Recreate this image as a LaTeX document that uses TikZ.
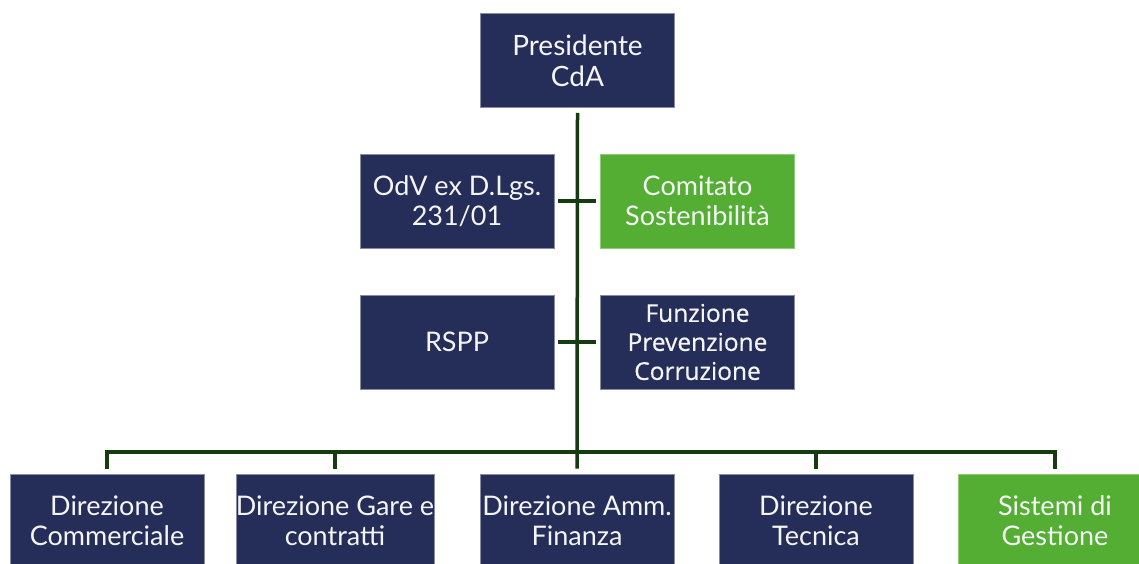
\documentclass[tikz,border=0pt]{standalone}
\usepackage{fontspec}
\setmainfont{Lato}
\newfontfamily\funzfont{Open Sans}[FakeBold=0.6]
\usepackage{tikz}
\definecolor{boxblue}{RGB}{37,45,89}
\definecolor{boxgreen}{RGB}{84,174,52}
\definecolor{linkgreen}{RGB}{20,60,16}
\newcommand{\boxwidth}{194pt}
\newcommand{\boxheight}{94pt}
\tikzset{
	orgbox/.style={fill=boxblue, draw=boxblue!55!white, line width=0.6pt,
		minimum width=\boxwidth, minimum height=\boxheight, inner sep=0pt,
		text=white!92!gray, align=center, font=\fontsize{27}{30}\selectfont},
	greenbox/.style={orgbox, fill=boxgreen, draw=boxgreen!65!white},
	link/.style={draw=linkgreen, line width=3.5pt},
}

\begin{document}
\begin{tikzpicture}[x=1pt,y=-1pt]
	\useasboundingbox (0,0) rectangle (1139,564);
	\clip (0,0) rectangle (1139,564);

	% top
	\node[orgbox, font=\fontsize{28}{31}\selectfont] (pres) at (577.5,60.5) {Presidente\\CdA};

	% staff
	\node[orgbox] (odv) at (457,201) {OdV ex D.Lgs.\\231/01};
	\node[greenbox] (comitato) at (697.5,201) {Comitato\\Sostenibilità};
	\node[orgbox] (rspp) at (457,342) {RSPP};
	\node[orgbox, font=\funzfont\fontsize{24.5}{29}\selectfont] (funz) at (697.5,342) {Funzione\\Prevenzione\\Corruzione};

	% directions
	\node[orgbox] (comm) at (107,521) {Direzione\\Commerciale};
	\node[orgbox] (gare) at (335,521) {Direzione Gare e\\contratti};
	\node[orgbox] (amm) at (577,521) {Direzione Amm.\\Finanza};
	\node[orgbox] (tecn) at (816,521) {Direzione\\Tecnica};
	\node[greenbox] (sist) at (1055,521) {Sistemi di\\Gestione};

	\coordinate (bus) at (577,452);

	\draw[link] ([yshift=-5pt]pres.south) -- ([yshift=5pt]amm.north);
	\draw[link] ([xshift=4pt]odv.east) -- ([xshift=-4pt]comitato.west);
	\draw[link] ([xshift=4pt]rspp.east) -- ([xshift=-4pt]funz.west);
	\draw[link] ([yshift=5pt]comm.north) |- (bus) -| ([yshift=5pt]sist.north);
	\draw[link] ([yshift=5pt]gare.north) -- (gare.north |- bus);
	\draw[link] ([yshift=5pt]tecn.north) -- (tecn.north |- bus);
\end{tikzpicture}
\end{document}
